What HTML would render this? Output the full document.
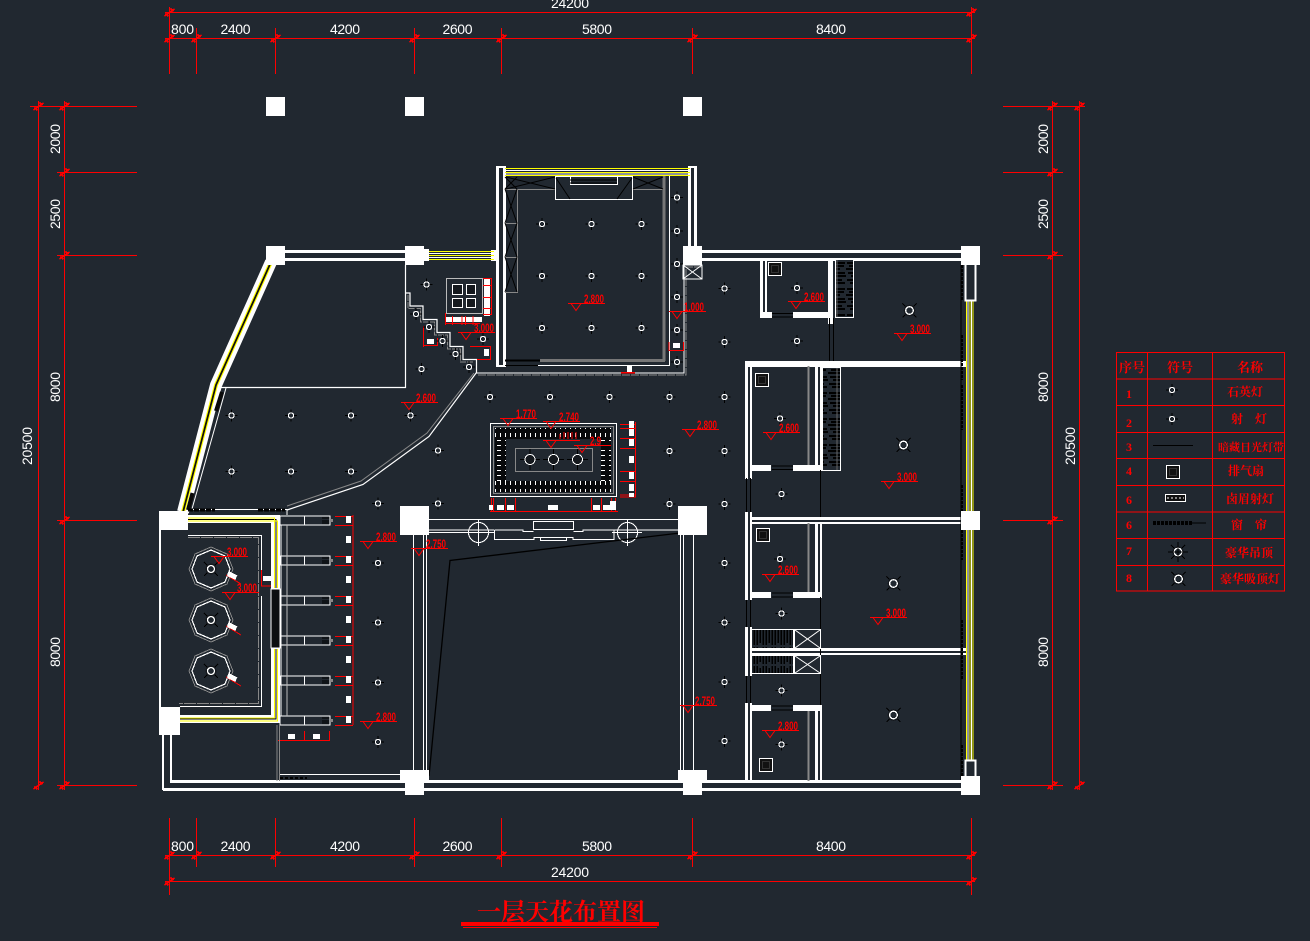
<!DOCTYPE html>
<html><head><meta charset="utf-8"><title>一层天花布置图</title>
<style>
html,body{margin:0;padding:0;background:#212830;}
svg{display:block;}
.d{font-family:"Liberation Sans",sans-serif;font-size:14px;fill:#fff;text-anchor:middle;}
.r{font-family:"Liberation Sans",sans-serif;font-size:12px;font-weight:bold;fill:#f00;}
.c{font-family:"Liberation Serif","Noto Serif CJK SC",serif;font-weight:bold;fill:#f00;text-anchor:middle;}
</style></head><body>
<svg width="1310" height="941" viewBox="0 0 1310 941" xmlns="http://www.w3.org/2000/svg" shape-rendering="crispEdges">
<defs>
<g id="t"><path d="M-5,3.5L5,-3.5M-4,1L-1,4M1,-4L4,-1" stroke="#f00" stroke-width="1.6" fill="none"/></g>
<g id="l"><path d="M-6,0H6M0,-6V6" stroke="#000" stroke-width="1.2"/><circle r="2.6" fill="#212830" stroke="#fff" stroke-width="1.2"/></g>
<g id="b"><path d="M-7,-7L7,7M-7,7L7,-7" stroke="#000" stroke-width="1"/><circle r="5.8" fill="#15191e"/><circle r="3.8" fill="#212830" stroke="#fff" stroke-width="1.3"/></g>
<g id="ch"><polygon points="0,-19 14,-13 19,0 14,13 0,19 -14,13 -19,0 -14,-13" fill="none" stroke="#fff" stroke-width="1.2"/><polygon points="0,-22 16,-15 22,0 16,15 0,22 -16,15 -22,0 -16,-15" fill="none" stroke="#888" stroke-width="1"/><path d="M-7,-7L7,7M-7,7L7,-7" stroke="#000"/><circle r="5.5" fill="#15191e"/><circle r="3.5" fill="#212830" stroke="#fff" stroke-width="1.3"/>
<path d="M15,6L30,15" stroke="#f00" stroke-width="1"/><rect x="17" y="4" width="9" height="5" fill="#fff" transform="rotate(25 21 6)"/></g>
<g id="ex"><rect x="0" y="0" width="13" height="13" fill="#111" stroke="#fff" stroke-width="1.2"/><rect x="3" y="3" width="7" height="7" fill="none" stroke="#333"/></g>
<g id="fin"><rect x="280" y="0" width="50" height="9" fill="none" stroke="#fff" stroke-width="1"/><path d="M304.5,0V9" stroke="#fff"/><path d="M322,2H329M322,5H329M322,7H329" stroke="#000" stroke-width="1.2"/><rect x="330" y="3" width="3" height="3" fill="#888"/><path d="M335,0.5H353M335,9.5H353" stroke="#f00" stroke-width="1"/><rect x="346" y="0" width="5" height="7" fill="#fff"/></g>
<pattern id="hs" width="18" height="26" patternUnits="userSpaceOnUse"><rect width="18" height="26" fill="#212830"/><path d="M1,3H17M3,6H16M0,9H12M2,13H17M5,16H18M1,20H14M4,23H17" stroke="#000" stroke-width="1.8"/><path d="M9,0V26" stroke="#666" stroke-width="1"/></pattern>
<pattern id="hd" width="5" height="8" patternUnits="userSpaceOnUse"><rect width="5" height="8" fill="#08090b"/><rect x="0" y="1" width="1" height="4" fill="#fff"/></pattern>
<pattern id="hdv" width="8" height="5" patternUnits="userSpaceOnUse"><rect width="8" height="5" fill="#08090b"/><rect x="1" y="0" width="4" height="1" fill="#fff"/></pattern>
<pattern id="hz" width="9" height="19" patternUnits="userSpaceOnUse"><rect width="9" height="19" fill="#212830"/><path d="M1,1V18M4,3V16M7,1V18" stroke="#000" stroke-width="1.5"/></pattern>
<g id="lv"><path d="M-3,0H34" stroke="#f00" stroke-width="1"/><path d="M0,0L5,7L10,0" fill="none" stroke="#f00" stroke-width="1"/></g>
</defs>
<rect width="1310" height="941" fill="#212830"/>

<!-- dimensions top -->
<g stroke="#f00" fill="none">
<path d="M165,12.5H975" stroke-width="1.3"/><path d="M165,38.5H975" stroke-width="1.3"/>
<path d="M169.5,7V74M196.5,28V74M275.5,28V74M414.5,28V74M501.5,28V74M692.5,28V74M971.5,7V74" stroke-width="1"/>
<!-- bottom -->
<path d="M165,855.5H975M165,881.5H975" stroke-width="1"/>
<path d="M169.5,818V895M196.5,818V867M275.5,818V867M414.5,818V867M501.5,818V867M692.5,818V867M971.5,818V895" stroke-width="1"/>
<!-- left -->
<path d="M38.5,101V790M64.5,101V790" stroke-width="1.2"/>
<path d="M30,106.5H137M57,172.5H137M57,255.5H137M57,520.5H137M57,785.5H137" stroke-width="1"/>
<!-- right -->
<path d="M1052.5,101V790M1079.5,101V790" stroke-width="1"/>
<path d="M1003,106.5H1085M1003,172.5H1063M1003,255.5H1063M1003,520.5H1063M1003,785.5H1063" stroke-width="1"/>
</g>
<g>
<use href="#t" x="169.5" y="12.5"/><use href="#t" x="971.5" y="12.5"/>
<use href="#t" x="169.5" y="38.5"/><use href="#t" x="196.5" y="38.5"/><use href="#t" x="275.5" y="38.5"/><use href="#t" x="414.5" y="38.5"/><use href="#t" x="501.5" y="38.5"/><use href="#t" x="692.5" y="38.5"/><use href="#t" x="971.5" y="38.5"/>
<use href="#t" x="169.5" y="855.5"/><use href="#t" x="196.5" y="855.5"/><use href="#t" x="275.5" y="855.5"/><use href="#t" x="414.5" y="855.5"/><use href="#t" x="501.5" y="855.5"/><use href="#t" x="692.5" y="855.5"/><use href="#t" x="971.5" y="855.5"/>
<use href="#t" x="169.5" y="881.5"/><use href="#t" x="971.5" y="881.5"/>
<use href="#t" x="38.5" y="106.5"/><use href="#t" x="64.5" y="106.5"/><use href="#t" x="64.5" y="172.5"/><use href="#t" x="64.5" y="255.5"/><use href="#t" x="64.5" y="520.5"/><use href="#t" x="64.5" y="785.5"/><use href="#t" x="38.5" y="785.5"/>
<use href="#t" x="1052.5" y="106.5"/><use href="#t" x="1079.5" y="106.5"/><use href="#t" x="1052.5" y="172.5"/><use href="#t" x="1052.5" y="255.5"/><use href="#t" x="1052.5" y="520.5"/><use href="#t" x="1052.5" y="785.5"/><use href="#t" x="1079.5" y="785.5"/>
</g>
<g class="d">
<text x="570" y="8" textLength="38">24200</text>
<text x="182.5" y="34" textLength="23">800</text><text x="235.5" y="34" textLength="30">2400</text><text x="345" y="34" textLength="30">4200</text><text x="457.5" y="34" textLength="30">2600</text><text x="597" y="34" textLength="30">5800</text><text x="831" y="34" textLength="30">8400</text>
<text x="182.5" y="851" textLength="23">800</text><text x="235.5" y="851" textLength="30">2400</text><text x="345" y="851" textLength="30">4200</text><text x="457.5" y="851" textLength="30">2600</text><text x="597" y="851" textLength="30">5800</text><text x="831" y="851" textLength="30">8400</text>
<text x="570" y="877" textLength="38">24200</text>
<text transform="translate(60,139) rotate(-90)" textLength="30">2000</text>
<text transform="translate(60,214) rotate(-90)" textLength="30">2500</text>
<text transform="translate(60,387) rotate(-90)" textLength="30">8000</text>
<text transform="translate(60,652) rotate(-90)" textLength="30">8000</text>
<text transform="translate(32,446) rotate(-90)" textLength="38">20500</text>
<text transform="translate(1048,139) rotate(-90)" textLength="30">2000</text>
<text transform="translate(1048,214) rotate(-90)" textLength="30">2500</text>
<text transform="translate(1048,387) rotate(-90)" textLength="30">8000</text>
<text transform="translate(1048,652) rotate(-90)" textLength="30">8000</text>
<text transform="translate(1075,446) rotate(-90)" textLength="38">20500</text>
</g>

<!-- free columns top -->
<g fill="#fff"><rect x="266" y="97" width="19" height="19"/><rect x="405" y="97" width="19" height="19"/><rect x="683" y="97" width="19" height="19"/></g>

<!-- outer walls -->
<g fill="#fff">
<rect x="285" y="250" width="120" height="3"/><rect x="285" y="258" width="120" height="3"/>
<rect x="702" y="250" width="259" height="3"/><rect x="702" y="258" width="259" height="3"/>
<rect x="170" y="780" width="800" height="3"/><rect x="163" y="788" width="807" height="3"/>
<rect x="162" y="735" width="2" height="55"/><rect x="170" y="735" width="2" height="46"/>
<rect x="159" y="530" width="2" height="177"/>
</g>
<!-- angled yellow wall -->
<path d="M271,262L216,385L183,512" fill="none" stroke="#fff" stroke-width="12" shape-rendering="auto"/>
<path d="M271,262L216,385L183,512" fill="none" stroke="#ff0" stroke-width="4" shape-rendering="auto"/>
<path d="M271,262L216,385L183,512" fill="none" stroke="#111" stroke-width="1.8" shape-rendering="auto"/>
<g fill="none" shape-rendering="auto">
<path d="M226,388L192,509" stroke="#fff" stroke-width="1"/>
<path d="M222,392L216,411M192.5,493L188,510" stroke="#0a0a0a" stroke-width="4"/>
<path d="M405.5,265V387.5H221" stroke="#fff" stroke-width="1.2"/>
<path d="M405.5,293H410V306H423V319.5H437V332.5H450V346.5H463V359.5H476.5V372.5" stroke="#fff" stroke-width="1.2"/>
<path d="M408,295V308.5H420.5V322H434.5V335H447.5V349H460.5V362H474" stroke="#888" stroke-width="1" stroke-dasharray="6 1"/>
<path d="M476.5,372.5L429,436.5L363,484.5L287,510" stroke="#fff" stroke-width="1.2"/>
<path d="M474,373L427,433L361,481L287,506" stroke="#888" stroke-width="1"/>
<path d="M192,509.5H287V515" stroke="#fff" stroke-width="1"/>
<path d="M188,510H215M258,510H285" stroke="#000" stroke-width="3" stroke-dasharray="5 1"/>
</g>

<!-- alcove -->
<g fill="#fff">
<rect x="496" y="167" width="3" height="200"/><rect x="503" y="167" width="3" height="200"/>
<rect x="496" y="166" width="10" height="2"/><rect x="496" y="365" width="10" height="2"/>
<rect x="688" y="167" width="3" height="79"/><rect x="694" y="167" width="3" height="79"/><rect x="688" y="166" width="9" height="2"/>
<rect x="491" y="250" width="5" height="11"/>
<rect x="424" y="249" width="5" height="12"/>
</g>
<g stroke="#fff" stroke-width="1"><path d="M429,253.5H494M429,257.5H494M505,170.5H690M505,174H690"/></g>
<g stroke="#ff0" stroke-width="1.2"><path d="M505,168.5H690M505,172.5H690M505,175.5H690"/><path d="M429,251.5H494M429,255.5H494M429,259.5H494"/></g>
<g fill="none">
<path d="M664,176V361" stroke="#777" stroke-width="3"/><path d="M540,360.5H665" stroke="#777" stroke-width="3"/><path d="M505,360.5H540" stroke="#000" stroke-width="2"/>
<path d="M669.5,176V365.5H538" stroke="#fff" stroke-width="1"/><path d="M505,365.5H538" stroke="#000" stroke-width="1"/>
<path d="M476.5,360V373H684V265" stroke="#fff" stroke-width="1.2"/>
<path d="M478,375H686V267H702" stroke="#888" stroke-width="1" stroke-dasharray="8 1"/>
<path d="M505,189.5H555M633,189.5H663M517.5,189V292.5H505M505,223.5H517M505,257.5H517" stroke="#888" stroke-width="1"/>
<rect x="555.5" y="176.5" width="77" height="23" stroke="#fff" stroke-width="1"/><rect x="570.5" y="176.5" width="47" height="8" stroke="#fff" stroke-width="1"/>
</g>
<g stroke="#000" stroke-width="1" fill="none" shape-rendering="auto">
<path d="M505,177L517,189M517,177L505,189M505,189L517,223M517,189L505,223M505,223L517,257M517,223L505,257M505,257L517,292M517,257L505,292M506,177L555,189M555,177L506,189M633,177L663,189M633,189L663,177M556,178L570,199M632,178L617,199M570,180H617M570,183H617"/>
</g>
<rect x="683" y="265" width="19" height="14" fill="none" stroke="#fff" stroke-width="1"/>
<path d="M683,265L702,279M702,265L683,279" stroke="#fff" stroke-width="1" shape-rendering="auto"/>

<!-- small hood upper-left -->
<rect x="446.5" y="278.5" width="36" height="35" fill="none" stroke="#bbb" stroke-width="1.4"/>
<g fill="#15191e" stroke="#fff" stroke-width="1"><rect x="452.5" y="284.5" width="10" height="10"/><rect x="466.5" y="284.5" width="9" height="10"/><rect x="452.5" y="298.5" width="10" height="9"/><rect x="466.5" y="298.5" width="9" height="9"/></g>
<g fill="#fff"><rect x="484" y="278" width="6" height="38"/><rect x="445" y="317" width="37" height="5"/></g>
<g stroke="#f00" stroke-width="1" fill="none"><path d="M483,278.5H492M483,285.5H492M483,297.5H492M483,308.5H492M483,314.5H492M491.5,278V315"/><path d="M445.5,313V325M452.5,316V325M462,316V325M465.5,316V325M473,316V325M445,323.5H480"/>
<path d="M423.5,326V347M423.5,345.5H437.5M437.5,338V346"/><path d="M470,346.5H490.5V359.5H477M490.5,346V360"/><path d="M669,342V350.5H683.5V342"/><path d="M621,372.5H635" stroke-width="1.5"/></g>
<g fill="#fff"><rect x="427" y="339" width="7" height="5"/><rect x="484" y="349" width="5" height="7"/><rect x="673" y="343" width="7" height="5"/><rect x="627" y="366" width="5" height="6"/></g>

<!-- left room -->
<g fill="#fff">
<rect x="188" y="515" width="92" height="8"/><rect x="271" y="515" width="9" height="74"/>
<rect x="180" y="715" width="100" height="8"/><rect x="271" y="648" width="9" height="75"/>
<rect x="271" y="589" width="9" height="59" fill="#0c0e10" stroke="#fff"/>
</g>
<path d="M188,519.5H276V588M180,719H276V649" fill="none" stroke="#000" stroke-width="1"/>
<g stroke="#ff0" stroke-width="1.3" fill="none"><path d="M188,518H274.5V588"/><path d="M188,521H277.5V588"/><path d="M180,721H277.5V649"/><path d="M180,718H274.5V649"/></g>
<g fill="none"><path d="M188,535.5H261.5V581M180,706.5H261.5V596" stroke="#fff" stroke-width="1"/><path d="M188,537.5H258.5V703.5H179" stroke="#888" stroke-width="1" stroke-dasharray="12 1"/></g>
<path d="M261.5,570V586H271" stroke="#f00" stroke-width="1" fill="none"/><rect x="263" y="576" width="8" height="5" fill="#fff"/>
<use href="#ch" x="211" y="569"/><use href="#ch" x="211" y="620"/><use href="#ch" x="211" y="671"/>

<!-- fins -->
<use href="#fin" y="516"/><use href="#fin" y="556"/><use href="#fin" y="596"/><use href="#fin" y="636"/><use href="#fin" y="676"/><use href="#fin" y="716"/>
<g fill="#fff"><rect x="346" y="536" width="5" height="7"/><rect x="346" y="576" width="5" height="7"/><rect x="346" y="616" width="5" height="7"/><rect x="346" y="656" width="5" height="7"/><rect x="346" y="696" width="5" height="7"/>
<rect x="288" y="734" width="7" height="5"/><rect x="313" y="734" width="7" height="5"/></g>
<path d="M353,515V725" stroke="#f00" stroke-width="1" fill="none"/>
<path d="M278,740.5H330M304.5,731V741M329.5,731V741" stroke="#f00" stroke-width="1" fill="none"/>
<g stroke="#bbb" stroke-width="1" fill="none"><path d="M287,525V716"/><path d="M281,525V716" stroke="#fff"/></g>
<g stroke="#888" stroke-width="1.2"><path d="M277,725V781M279.5,725V781"/></g>
<path d="M280,774.5H400" stroke="#fff" stroke-width="1"/>
<path d="M280,778H307" stroke="#000" stroke-width="2" stroke-dasharray="3 2"/>

<!-- center hood -->
<rect x="490.5" y="423.5" width="126" height="73" fill="none" stroke="#fff" stroke-width="1.2"/>
<rect x="493.5" y="426.5" width="120" height="67" fill="none" stroke="#888" stroke-width="1"/>
<rect x="495" y="428" width="116" height="11" fill="url(#hd)"/><rect x="495" y="481" width="116" height="11" fill="url(#hd)"/>
<rect x="495" y="439" width="11" height="42" fill="url(#hdv)"/><rect x="601" y="439" width="10" height="42" fill="url(#hdv)"/>
<rect x="515.5" y="448.5" width="77" height="23" fill="none" stroke="#888" stroke-width="1.2"/>
<g><g stroke="#000" stroke-width="1"><path d="M520,459.5H540M530,449V470M543,459.5H564M553.5,449V470M567,459.5H588M577.5,449V470"/></g>
<g fill="#15191e" stroke="#fff" stroke-width="1"><circle cx="530" cy="459.5" r="5"/><circle cx="553.5" cy="459.5" r="5"/><circle cx="577.5" cy="459.5" r="5"/></g></g>
<g stroke="#f00" stroke-width="1" fill="none"><path d="M635.5,422V497M620,424.5H636M620,428.5H636M620,438.5H636M620,448.5H636M620,471.5H636M620,481.5H636M620,495H636M620,497H636"/>
<path d="M490,511.5H618M491.5,498V512M493.5,498V512M505.5,498V512M515.5,498V512M591.5,498V512M601.5,498V512M611.5,498V512M615.5,498V512"/>
<path d="M560,434V439M564,432V439M568,432V439M572,432V439M576,432V439" /></g>
<g fill="#fff"><rect x="629" y="421" width="5" height="7"/><rect x="629" y="429" width="5" height="7"/><rect x="629" y="439" width="5" height="7"/><rect x="629" y="456" width="5" height="7"/><rect x="629" y="472" width="5" height="7"/><rect x="629" y="484" width="5" height="7"/><rect x="629" y="493" width="5" height="4"/>
<rect x="489" y="505" width="4" height="5"/><rect x="497" y="505" width="7" height="5"/><rect x="507" y="505" width="7" height="5"/><rect x="548" y="505" width="10" height="5"/><rect x="593" y="505" width="7" height="5"/><rect x="603" y="505" width="7" height="5"/><rect x="610" y="501" width="6" height="9"/></g>

<!-- beam -->
<g fill="none" stroke="#fff" stroke-width="1">
<path d="M429,519.5H678M429,530H494M614,530H678M429,532.5H470M486,532.5H495"/>
<rect x="533.5" y="521.5" width="40" height="8"/>
<path d="M494.5,530V539.5H534V537.5H573V539.5H614V530M494.5,530H523V531.5H533.5M573.5,531.5H583V530H614"/>
<rect x="540.5" y="537.5" width="26" height="3"/>
<circle cx="478.5" cy="532.5" r="10"/><path d="M478.5,520V546M468,532.5H489"/>
<circle cx="627.5" cy="532.5" r="10"/><path d="M627.5,520V546M612,532.5H642"/>
<path d="M413.5,535V770M423.5,535V770M426.5,535V770M680.5,535V770M683.5,535V770M693.5,535V770"/>
</g>
<path d="M429,776L450,560.5L680,533" fill="none" stroke="#000" stroke-width="1.3" shape-rendering="auto"/>

<!-- right rooms -->
<g fill="#fff">
<rect x="760" y="258" width="3" height="60"/><rect x="765" y="258" width="2" height="55"/>
<rect x="760" y="312" width="12" height="6"/><rect x="793" y="312" width="38" height="6"/>
<rect x="828" y="258" width="5" height="66"/>
<rect x="745" y="361" width="3" height="118"/><rect x="750" y="366" width="2" height="113"/>
<rect x="745" y="361" width="221" height="6"/>
<rect x="815" y="366" width="3" height="104"/><rect x="820" y="366" width="2" height="104"/>
<rect x="751" y="465" width="20" height="6"/><rect x="793" y="465" width="29" height="6"/>
<rect x="751" y="517" width="210" height="3"/><rect x="751" y="522" width="210" height="2"/>
<rect x="745" y="512" width="3" height="88"/><rect x="750" y="512" width="2" height="88"/>
<rect x="815" y="523" width="3" height="75"/><rect x="820" y="523" width="2" height="75"/>
<rect x="751" y="592" width="20" height="6"/><rect x="793" y="592" width="29" height="6"/>
<rect x="745" y="627" width="3" height="49"/><rect x="750" y="627" width="2" height="49"/>
<rect x="751" y="648" width="215" height="3"/><rect x="751" y="653" width="215" height="2"/>
<rect x="745" y="703" width="3" height="78"/><rect x="750" y="703" width="2" height="78"/>
<rect x="751" y="705" width="20" height="6"/><rect x="793" y="705" width="29" height="6"/>
<rect x="815" y="708" width="3" height="73"/><rect x="820" y="708" width="2" height="73"/>
</g>
<g stroke="#000" stroke-width="1" fill="none">
<path d="M772,313.5H793M772,317H793M772,466H793M772,469.5H793M772,593H793M772,597H793M772,706H793M772,710H793"/>
<path d="M829.5,318V361M833.5,318V361M746.5,478V512M750.5,478V512M746.5,600V627M750.5,600V627M746.5,676V703M750.5,676V703M820.5,470V517M820.5,597V705"/>
</g>
<g stroke="#888" stroke-width="2" fill="none"><path d="M808.5,366V465M808.5,523V592M808.5,711V781"/></g>
<rect x="835.5" y="259.5" width="18" height="58" fill="url(#hs)" stroke="#fff" stroke-width="1"/>
<rect x="822.5" y="367.5" width="18" height="103" fill="url(#hs)" stroke="#fff" stroke-width="1"/>
<rect x="751.5" y="629.5" width="42" height="19" fill="url(#hz)" stroke="#fff"/><rect x="751.5" y="655.5" width="42" height="18" fill="url(#hz)" stroke="#fff"/>
<g fill="none" stroke="#fff" stroke-width="1"><rect x="794.5" y="629.5" width="26" height="19"/><rect x="794.5" y="655.5" width="26" height="18"/></g>
<path d="M795,630L820,648M820,630L795,648M795,656L820,673M820,656L795,673" stroke="#fff" stroke-width="1" shape-rendering="auto"/>
<use href="#ex" x="768.5" y="262.5"/><use href="#ex" x="755.5" y="373.5"/><use href="#ex" x="756.5" y="528.5"/><use href="#ex" x="759.5" y="758.5"/>

<!-- right yellow wall -->
<g stroke="#fff" stroke-width="1"><path d="M968,301V511M971.5,301V511M968,530V760M971.5,530V760"/></g>
<g stroke="#ff0" stroke-width="1"><path d="M966.5,301V511M970,301V511M973,301V511M966.5,530V760M970,530V760M973,530V760"/></g>
<g stroke="#000" stroke-width="2"><path d="M962,265V300M962,335V380M962,385V430M962,485V511M962,530V560M962,620V680M962,745V780" stroke-dasharray="3 1"/></g>
<path d="M961,265V780" stroke="#000" stroke-width="1"/>
<path d="M965.5,265V300.5H975.5V265M965.5,776V760.5H975.5V776" fill="none" stroke="#fff" stroke-width="2"/>

<!-- columns -->
<g fill="#fff">
<rect x="266" y="246" width="19" height="19"/><rect x="405" y="246" width="19" height="19"/><rect x="683" y="246" width="19" height="19"/><rect x="961" y="246" width="19" height="19"/>
<rect x="961" y="511" width="19" height="19"/><rect x="961" y="776" width="19" height="19"/>
<rect x="400" y="506" width="29" height="29"/><rect x="678" y="506" width="29" height="29"/>
<rect x="400" y="770" width="29" height="10"/><rect x="405" y="780" width="19" height="15"/>
<rect x="678" y="770" width="29" height="10"/><rect x="683" y="780" width="19" height="15"/>
<rect x="159" y="511" width="29" height="19"/><rect x="159" y="707" width="21" height="28"/>
</g>

<!-- lights -->
<g>
<use href="#l" x="542" y="224"/><use href="#l" x="591.5" y="224"/><use href="#l" x="641.5" y="224"/>
<use href="#l" x="542" y="276"/><use href="#l" x="591.5" y="276"/><use href="#l" x="641.5" y="276"/>
<use href="#l" x="542" y="328"/><use href="#l" x="591.5" y="328"/><use href="#l" x="641.5" y="328"/>
<use href="#l" x="677" y="197.5"/><use href="#l" x="677" y="231"/><use href="#l" x="677" y="264"/><use href="#l" x="677" y="297"/><use href="#l" x="677" y="330"/><use href="#l" x="677" y="362"/>
<use href="#l" x="426.5" y="284.5"/><use href="#l" x="416" y="314"/><use href="#l" x="429" y="327"/><use href="#l" x="442.5" y="341"/><use href="#l" x="483" y="339"/><use href="#l" x="455.5" y="354"/><use href="#l" x="421.5" y="369"/><use href="#l" x="469" y="367"/>
<use href="#l" x="231.5" y="415.5"/><use href="#l" x="291" y="415.5"/><use href="#l" x="351" y="415.5"/><use href="#l" x="410.5" y="415.5"/>
<use href="#l" x="231.5" y="471.5"/><use href="#l" x="291" y="471.5"/><use href="#l" x="351" y="471.5"/><use href="#l" x="438" y="450.5"/>
<use href="#l" x="378" y="503.5"/><use href="#l" x="438" y="503.5"/>
<use href="#l" x="378" y="563"/><use href="#l" x="378" y="622.5"/><use href="#l" x="378" y="682.5"/><use href="#l" x="378" y="742"/>
<use href="#l" x="490" y="397"/><use href="#l" x="550" y="397"/><use href="#l" x="609.5" y="397"/><use href="#l" x="669.5" y="397"/><use href="#l" x="669.5" y="451"/><use href="#l" x="669.5" y="504"/>
<use href="#l" x="724.5" y="288.5"/><use href="#l" x="724.5" y="342"/><use href="#l" x="724.5" y="397"/><use href="#l" x="724.5" y="451"/><use href="#l" x="724.5" y="504"/><use href="#l" x="724.5" y="563"/><use href="#l" x="724.5" y="622.5"/><use href="#l" x="724.5" y="682"/><use href="#l" x="724.5" y="741"/>
<use href="#l" x="797" y="288"/><use href="#l" x="797" y="341"/><use href="#l" x="780" y="418.5"/><use href="#l" x="781.5" y="494"/><use href="#l" x="780" y="559"/><use href="#l" x="781.5" y="613.5"/><use href="#l" x="781.5" y="690.5"/><use href="#l" x="781.5" y="744.5"/>
<use href="#b" x="909.5" y="310.5"/><use href="#b" x="903.5" y="445"/><use href="#b" x="893.5" y="583.5"/><use href="#b" x="893.5" y="715"/>
</g>

<!-- level labels -->
<g shape-rendering="auto">
<use href="#lv" x="571" y="303.5"/><text class="r" x="584" y="303" textLength="20" lengthAdjust="spacingAndGlyphs">2.800</text>
<use href="#lv" x="672" y="311.5"/><text class="r" x="684" y="311" textLength="20" lengthAdjust="spacingAndGlyphs">1.000</text>
<use href="#lv" x="461" y="332.5"/><text class="r" x="474" y="332" textLength="20" lengthAdjust="spacingAndGlyphs">3.000</text>
<use href="#lv" x="791" y="301.5"/><text class="r" x="804" y="301" textLength="20" lengthAdjust="spacingAndGlyphs">2.600</text>
<use href="#lv" x="897" y="333.5"/><text class="r" x="910" y="333" textLength="20" lengthAdjust="spacingAndGlyphs">3.000</text>
<use href="#lv" x="766" y="432.5"/><text class="r" x="779" y="432" textLength="20" lengthAdjust="spacingAndGlyphs">2.600</text>
<use href="#lv" x="884" y="481.5"/><text class="r" x="897" y="481" textLength="20" lengthAdjust="spacingAndGlyphs">3.000</text>
<use href="#lv" x="765" y="574.5"/><text class="r" x="778" y="574" textLength="20" lengthAdjust="spacingAndGlyphs">2.600</text>
<use href="#lv" x="873" y="617.5"/><text class="r" x="886" y="617" textLength="20" lengthAdjust="spacingAndGlyphs">3.000</text>
<use href="#lv" x="765" y="730.5"/><text class="r" x="778" y="730" textLength="20" lengthAdjust="spacingAndGlyphs">2.800</text>
<use href="#lv" x="404" y="402.5"/><text class="r" x="416" y="402" textLength="20" lengthAdjust="spacingAndGlyphs">2.600</text>
<use href="#lv" x="685" y="429.5"/><text class="r" x="697" y="429" textLength="20" lengthAdjust="spacingAndGlyphs">2.800</text>
<use href="#lv" x="414" y="548.5"/><text class="r" x="426" y="548" textLength="20" lengthAdjust="spacingAndGlyphs">2.750</text>
<use href="#lv" x="683" y="705.5"/><text class="r" x="695" y="705" textLength="20" lengthAdjust="spacingAndGlyphs">2.750</text>
<use href="#lv" x="363" y="541.5"/><text class="r" x="376" y="541" textLength="20" lengthAdjust="spacingAndGlyphs">2.800</text>
<use href="#lv" x="363" y="721.5"/><text class="r" x="376" y="721" textLength="20" lengthAdjust="spacingAndGlyphs">2.800</text>
<use href="#lv" x="214" y="556.5"/><text class="r" x="227" y="556" textLength="20" lengthAdjust="spacingAndGlyphs">3.000</text>
<use href="#lv" x="225" y="592.5"/><text class="r" x="237" y="592" textLength="20" lengthAdjust="spacingAndGlyphs">3.000</text>
<use href="#lv" x="503" y="418.5"/><text class="r" x="516" y="418" textLength="20" lengthAdjust="spacingAndGlyphs">1.770</text>
<use href="#lv" x="546" y="421.5"/><text class="r" x="559" y="421" textLength="20" lengthAdjust="spacingAndGlyphs">2.740</text>
<use href="#lv" x="546" y="440.5"/>
<use href="#lv" x="577" y="445.5"/><text class="r" x="590" y="445" textLength="11" lengthAdjust="spacingAndGlyphs">2.9</text>
</g>

<!-- legend -->
<g fill="none" stroke="#f00" stroke-width="1.2">
<rect x="1116.5" y="352.5" width="168" height="238.5"/>
<path d="M1147.5,352V591M1212.5,352V591"/>
<path d="M1117,379H1285M1117,405.5H1285M1117,432.5H1285M1117,458.5H1285M1117,485.5H1285M1117,512H1285M1117,538.5H1285M1117,565.5H1285"/>
</g>
<g class="c" font-size="12" shape-rendering="auto">
<text x="1132" y="372" font-size="13">序号</text><text x="1180" y="372" font-size="13">符号</text><text x="1250" y="372" font-size="13">名称</text>
<text x="1129" y="398" font-size="12">1</text><text x="1129" y="427" font-size="12">2</text><text x="1129" y="451" font-size="12">3</text><text x="1129" y="475" font-size="12">4</text><text x="1129" y="504" font-size="12">6</text><text x="1129" y="529" font-size="12">6</text><text x="1129" y="555" font-size="12">7</text><text x="1129" y="582" font-size="12">8</text>
<text x="1245" y="396">石英灯</text><text x="1249" y="423">射　灯</text><text x="1251" y="451" font-size="11">暗藏日光灯带</text><text x="1246" y="475">排气扇</text><text x="1250" y="503">卤眉射灯</text><text x="1249" y="529">窗　帘</text><text x="1249" y="557">豪华吊顶</text><text x="1250" y="583">豪华吸顶灯</text>
</g>
<use href="#l" x="1172" y="390"/><use href="#l" x="1172" y="419"/>
<path d="M1153,445.5H1193" stroke="#000" stroke-width="1"/>
<use href="#ex" x="1166.5" y="465.5"/>
<rect x="1165.5" y="494.5" width="20" height="7" fill="#111" stroke="#fff"/>
<path d="M1167,498H1184" stroke="#fff" stroke-dasharray="2 2"/>
<path d="M1153,523H1192" stroke="#000" stroke-width="4" stroke-dasharray="3 1"/><path d="M1192,523H1206" stroke="#000"/>
<use href="#b" x="1178" y="552"/><path d="M1168,552H1188M1178,542V562" stroke="#000"/>
<use href="#b" x="1178.5" y="579"/>

<!-- title -->
<text class="c" x="561" y="920" font-size="24" shape-rendering="auto">一层天花布置图</text>
<rect x="461" y="922" width="198" height="4" fill="#f00"/>
<rect x="463" y="927" width="194" height="1" fill="#f00"/>
</svg>
</body></html>
